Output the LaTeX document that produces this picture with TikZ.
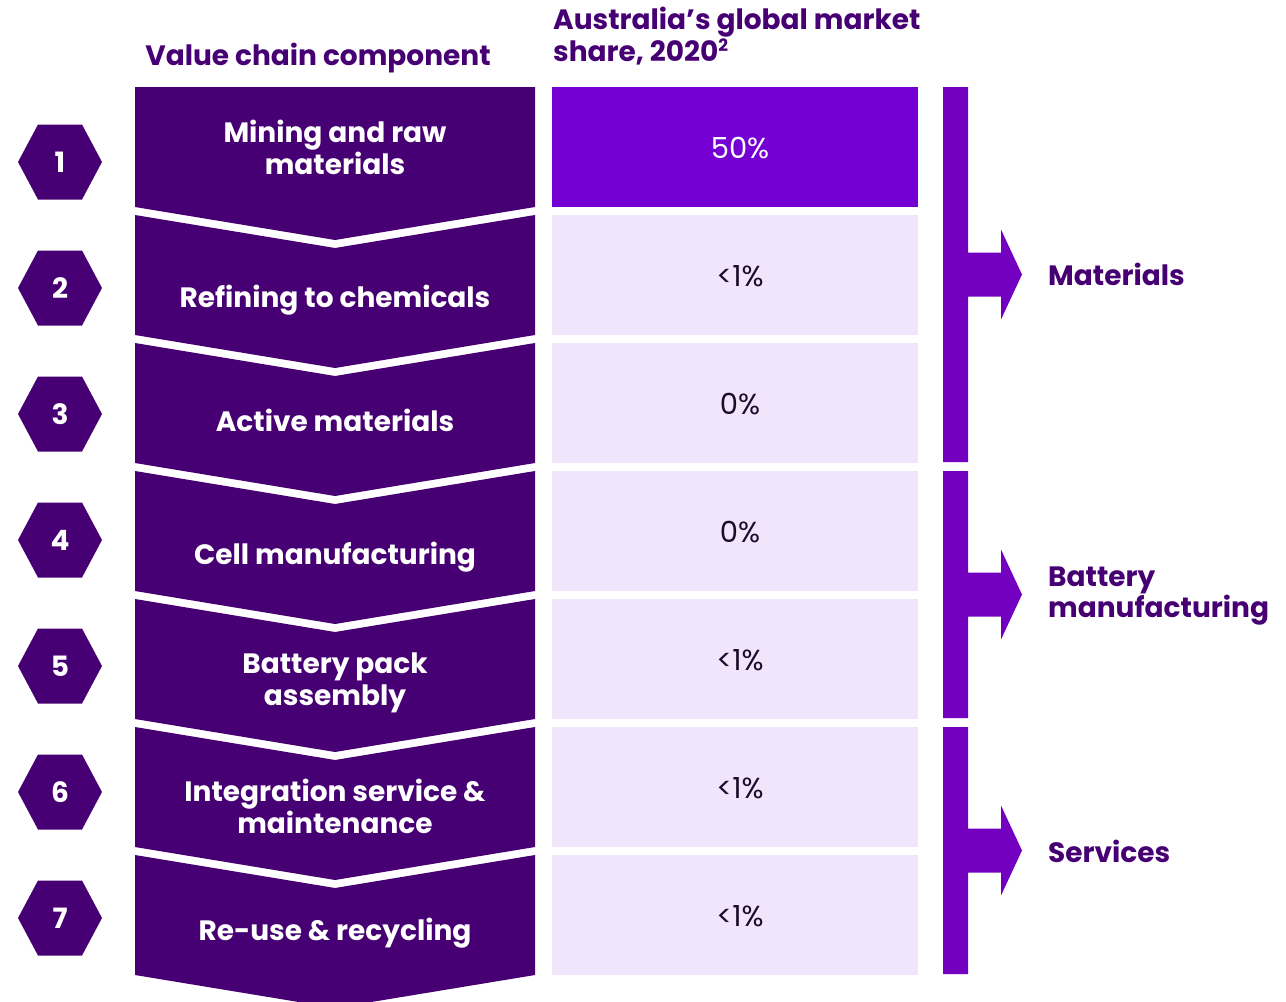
\documentclass[tikz,border=0pt]{standalone}
\usepackage{fontspec}
\setmainfont{Poppins}
\definecolor{dpurple}{RGB}{70,0,115}
\definecolor{mpurple}{RGB}{117,0,212}
\definecolor{bpurple}{RGB}{115,0,192}
\definecolor{lav}{RGB}{241,229,252}
\definecolor{txtc}{RGB}{30,10,45}
\newcommand{\supertwo}{\raisebox{0.62ex}{\fontsize{17}{17}\selectfont 2}}
\tikzset{
  chev/.style={fill=dpurple},
  hexa/.style={fill=dpurple},
  sharebox/.style={fill=lav},
  bracket/.style={fill=bpurple},
  chevtext/.style={text=white,font=\bfseries\fontsize{28}{32}\selectfont,align=center,inner sep=0pt},
  numtext/.style={text=white,font=\bfseries\fontsize{28}{30}\selectfont,inner sep=0pt},
  valtext/.style={text=txtc,font=\fontsize{29}{30}\selectfont,inner sep=0pt},
  headtext/.style={text=dpurple,font=\bfseries\fontsize{28}{32}\selectfont,inner sep=0pt},
  grouptext/.style={text=dpurple,font=\bfseries\fontsize{28}{31}\selectfont,align=left,inner sep=0pt,anchor=west},
}
\begin{document}
\begin{tikzpicture}[x=1pt,y=-1pt]
\useasboundingbox (0,0) rectangle (1286,1002);
% headers
\node[headtext] (h1) at (318,58) {Value chain component};
\node[headtext,align=left,anchor=west] (h2) at (553,36) {Australia’s global market\\share, 2020\supertwo};
% chevrons
\fill[chev] (135,87) -- (535,87) -- (535,207) -- (335,240) -- (135,207) -- cycle;
\foreach \i in {2,...,7}{
  \pgfmathsetmacro{\T}{87+128*(\i-1)}
  \pgfmathsetmacro{\B}{\T+120}
  \fill[chev] (135,\T) -- (335,\T+33) -- (535,\T) -- (535,\B) -- (335,\B+33) -- (135,\B) -- cycle;
}
% chevron labels
\node[chevtext] (c1) at (335,147) {Mining and raw\\materials};
\node[chevtext] (c2) at (335,300) {Refining to chemicals};
\node[chevtext] (c3) at (335,420) {Active materials};
\node[chevtext] (c4) at (335,557) {Cell manufacturing};
\node[chevtext] (c5) at (335,683) {Battery pack\\assembly};
\node[chevtext] (c6) at (335,806) {Integration service \&\\maintenance};
\node[chevtext] (c7) at (335,933) {Re-use \& recycling};
% hexagons
\foreach \i in {1,...,7}{
  \pgfmathsetmacro{\c}{162+126*(\i-1)}
  \fill[hexa] (18,\c) -- (38,\c-37.5) -- (82,\c-37.5) -- (102,\c) -- (82,\c+37.5) -- (38,\c+37.5) -- cycle;
  \node[numtext] (n\i) at (60,\c) {\i};
}
% share boxes
\fill[mpurple] (552,87) rectangle (918,207);
\foreach \i in {2,...,7}{
  \pgfmathsetmacro{\T}{87+128*(\i-1)}
  \fill[sharebox] (552,\T) rectangle (918,\T+120);
}
\node[valtext,text=white] (v1) at (740,148) {50\%};
\node[valtext] (v2) at (740,276) {<1\%};
\node[valtext] (v3) at (740,404) {0\%};
\node[valtext] (v4) at (740,532) {0\%};
\node[valtext] (v5) at (740,660) {<1\%};
\node[valtext] (v6) at (740,788) {<1\%};
\node[valtext] (v7) at (740,916) {<1\%};
% brackets
\foreach \a/\b in {87/462, 471/718, 727/974}{
  \pgfmathsetmacro{\m}{(\a+\b)/2}
  \fill[bracket] (943,\a) -- (968,\a) -- (968,\m-22) -- (1001,\m-22) -- (1001,\m-45) -- (1022,\m) -- (1001,\m+45) -- (1001,\m+22) -- (968,\m+22) -- (968,\b) -- (943,\b) -- cycle;
}
\node[grouptext] (g1) at (1048,274) {Materials};
\node[grouptext] (g2) at (1048,596) {Battery\\manufacturing};
\node[grouptext] (g3) at (1048,851) {Services};
\end{tikzpicture}
\end{document}
